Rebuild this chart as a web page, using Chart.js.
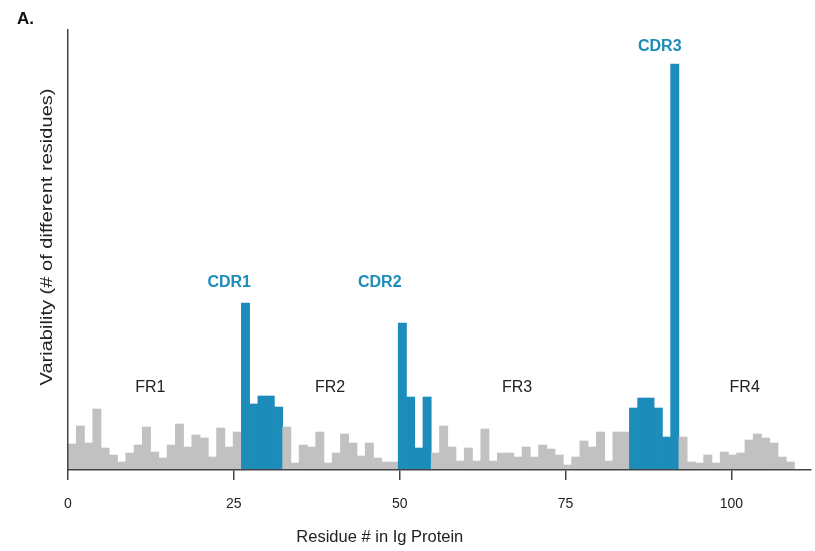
<!DOCTYPE html>
<html>
<head>
<meta charset="utf-8">
<title>Ig variability</title>
<script src="https://cdn.jsdelivr.net/npm/chart.js@4.4.1/dist/chart.umd.min.js"></script>
<style>
  html, body { margin: 0; padding: 0; background: #fff; }
  #wrap { width: 815px; height: 551px; }
</style>
</head>
<body>
<div id="wrap"><canvas id="variability-chart" width="815" height="551"></canvas></div>
<script>
// Variability per position, one array per region
const fr1 = [2.6, 4.4, 2.7, 6.1, 2.2, 1.5, 0.8, 1.7, 2.5, 4.3, 1.8, 1.2, 2.5, 4.6, 2.3, 3.5, 3.2, 1.3, 4.2, 2.3, 3.8];
const cdr1 = [16.7, 6.6, 7.4, 7.4, 6.3];
const fr2 = [4.3, 0.7, 2.5, 2.3, 3.8, 0.7, 1.7, 3.6, 2.7, 1.4, 2.7, 1.2, 0.8, 0.8];
const cdr2 = [14.7, 7.3, 2.2, 7.3];
const fr3 = [1.7, 4.4, 2.3, 0.9, 2.2, 0.9, 4.1, 0.9, 1.7, 1.7, 1.3, 2.3, 1.3, 2.5, 2.1, 1.5, 0.5, 1.3, 2.9, 2.3, 3.8, 0.9, 3.8, 3.8];
const cdr3 = [6.2, 7.2, 7.2, 6.2, 3.3, 40.6];
const fr4 = [3.3, 0.8, 0.7, 1.5, 0.7, 1.8, 1.5, 1.7, 3.0, 3.6, 3.2, 2.7, 1.3, 0.8];

const regions = [
    { name: 'FR1', data: fr1, cdr: false },
    { name: 'CDR1', data: cdr1, cdr: true },
    { name: 'FR2', data: fr2, cdr: false },
    { name: 'CDR2', data: cdr2, cdr: true },
    { name: 'FR3', data: fr3, cdr: false },
    { name: 'CDR3', data: cdr3, cdr: true },
    { name: 'FR4', data: fr4, cdr: false }
];

// Axis ticks (residue #)
const residueTicks = [0, 25, 50, 75, 100];

// Region labels, in residue / variability units
const regionLabels = [
    { text: 'FR1', x: 12.4, y: 8.2 },
    { text: 'CDR1', x: 24.3, y: 18.7, cdr: true },
    { text: 'FR2', x: 39.5, y: 8.2 },
    { text: 'CDR2', x: 47.0, y: 18.7, cdr: true },
    { text: 'FR3', x: 67.7, y: 8.2 },
    { text: 'CDR3', x: 89.2, y: 42.3, cdr: true },
    { text: 'FR4', x: 102.0, y: 8.2 }
];

const GRAY = '#c1c1c1';
const BLUE = '#1c8dba';
const INK = '#222';
const FONT = '"Liberation Sans", Arial, sans-serif';

const values = [];
const colors = [];
regions.forEach(r => {
    r.data.forEach(v => {
        values.push(v);
        colors.push(r.cdr ? BLUE : GRAY);
    });
});
// two empty slots after the last bar
const positions = Array.from({ length: values.length + 2 }, (_, i) => i + 1);

// Draws the region labels, axis titles and the panel letter
const figureText = {
    id: 'figureText',
    afterDraw(chart) {
        const { ctx, chartArea, scales } = chart;
        const xr = scales.xr;
        const y = scales.y;
        ctx.save();
        ctx.textAlign = 'center';
        ctx.textBaseline = 'middle';

        regionLabels.forEach(l => {
            ctx.fillStyle = l.cdr ? BLUE : INK;
            ctx.font = (l.cdr ? 'bold ' : '') + '16px ' + FONT;
            ctx.fillText(l.text, xr.getPixelForValue(l.x), y.getPixelForValue(l.y));
        });

        ctx.fillStyle = INK;
        ctx.font = '16.5px ' + FONT;
        ctx.fillText('Residue # in Ig Protein', xr.getPixelForValue(47), chartArea.bottom + 67);

        // y title, stretched a little to the length it has in the figure
        const yTitle = 'Variability (# of different residues)';
        ctx.translate(chartArea.left - 21, y.getPixelForValue(23.3));
        ctx.rotate(-Math.PI / 2);
        const w = ctx.measureText(yTitle).width;
        ctx.scale(297 / w, 1);
        ctx.fillText(yTitle, 0, 0);
        ctx.restore();

        ctx.save();
        ctx.fillStyle = '#111';
        ctx.font = 'bold 17px ' + FONT;
        ctx.textAlign = 'left';
        ctx.fillText('A.', 17, 24);
        ctx.restore();
    }
};

const ctx = document.getElementById('variability-chart').getContext('2d');

new Chart(ctx, {
    type: 'bar',
    data: {
        labels: positions,
        datasets: [{
            data: values,
            backgroundColor: colors,
            borderWidth: 0,
            barPercentage: 1,
            categoryPercentage: 1,
            xAxisID: 'x',
            yAxisID: 'y'
        }]
    },
    options: {
        responsive: false,
        animation: false,
        layout: { padding: { top: 30, right: 4, left: 0, bottom: 0 } },
        plugins: {
            legend: { display: false },
            tooltip: { enabled: false }
        },
        scales: {
            x: {
                type: 'category',
                display: false
            },
            xr: {
                type: 'linear',
                position: 'bottom',
                min: 0,
                max: 112,
                offset: false,
                afterBuildTicks: scale => {
                    scale.ticks = residueTicks.map(v => ({ value: v }));
                },
                ticks: {
                    color: INK,
                    padding: 16,
                    font: { family: FONT, size: 14 }
                },
                grid: {
                    display: true,
                    offset: false,
                    drawOnChartArea: false,
                    drawTicks: true,
                    tickLength: 10,
                    color: '#444',
                    lineWidth: 1.5
                },
                border: { display: true, color: '#444', width: 1.5, z: 1 },
                afterFit: scale => { scale.height = 81; }
            },
            y: {
                min: 0,
                max: 44,
                ticks: { display: false },
                grid: { display: false },
                border: { display: true, color: '#444', width: 1.5, z: 1 },
                afterFit: scale => { scale.width = 68; }
            }
        }
    },
    plugins: [figureText]
});
</script>
</body>
</html>
